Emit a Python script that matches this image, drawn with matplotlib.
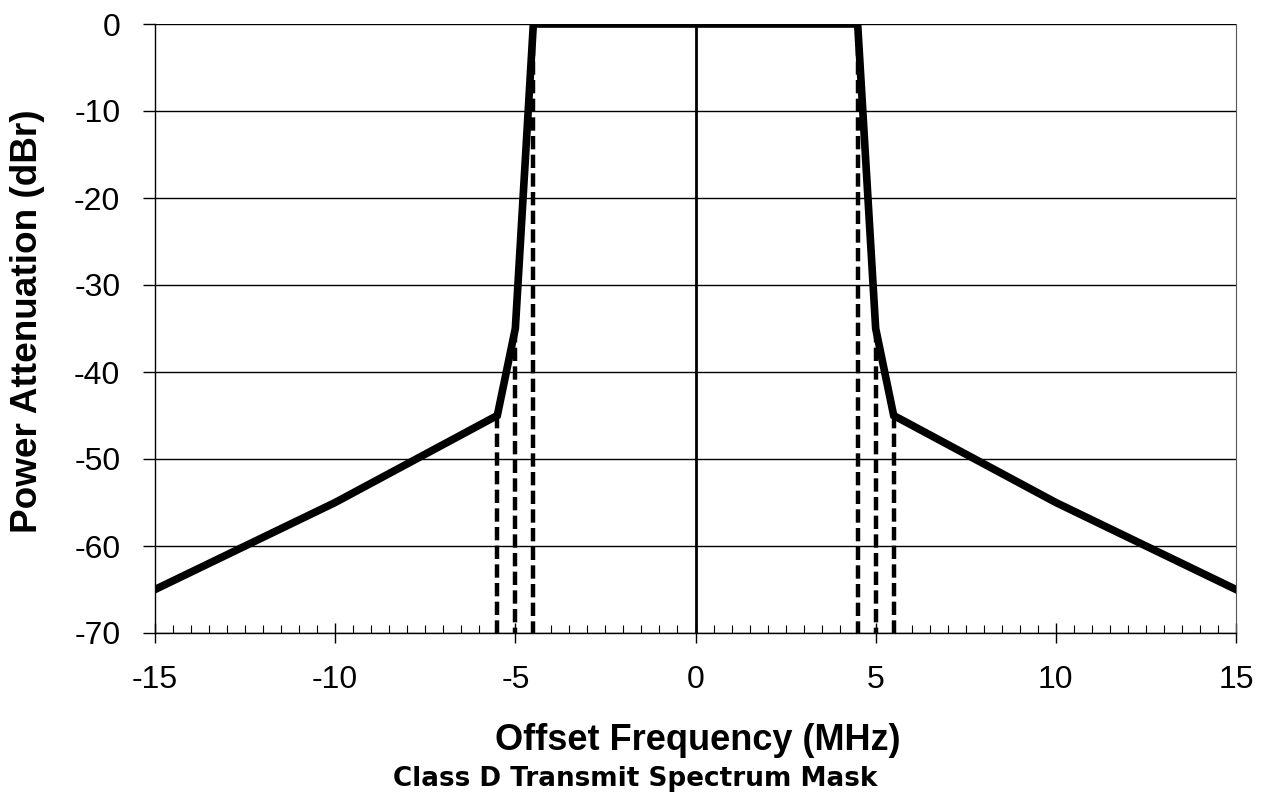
import matplotlib
matplotlib.use("Agg")
import matplotlib.pyplot as plt
from matplotlib.ticker import MultipleLocator

# Class D mask points (offset MHz, dBr)
mask_freq = [-15, -10, -5.5, -5.0, -4.5, 4.5, 5.0, 5.5, 10, 15]
mask_dbr = [-65, -55, -45, -35, 0, 0, -35, -45, -55, -65]

# dashed drop lines at the break frequencies
drop_freq = [-5.5, -5.0, -4.5, 4.5, 5.0, 5.5]
drop_top = [-45, -35, 0, 0, -35, -45]

x_ticks = [-15, -10, -5, 0, 5, 10, 15]
y_ticks = [0, -10, -20, -30, -40, -50, -60, -70]

fig = plt.figure(figsize=(12.71, 7.96), dpi=100)
ax = fig.add_axes([155/1271, 1-633/796, (1236-155)/1271, (633-24)/796])

for yv in y_ticks:
    ax.axhline(yv, color="black", lw=1.0, zorder=1)
ax.axvline(0, color="black", lw=2.0, zorder=2)

for f, t in zip(drop_freq, drop_top):
    ax.plot([f, f], [t, -70], color="black", lw=3.2, ls=(0, (3.0, 1.2)), zorder=3)

ax.plot(mask_freq, mask_dbr, color="black", lw=5.5, solid_joinstyle="miter", zorder=4)

ax.set_xlim(-15, 15)
ax.set_ylim(-70, 0)
ax.set_xticks(x_ticks)
ax.set_xticklabels([str(v) for v in x_ticks])
ax.set_yticks(y_ticks)
ax.set_yticklabels([str(v) for v in y_ticks])
ax.xaxis.set_minor_locator(MultipleLocator(0.5))

for s in ["left", "bottom"]:
    ax.spines[s].set_linewidth(1.0)
    ax.spines[s].set_color("black")
ax.spines["right"].set_linewidth(0.8)
ax.spines["right"].set_color("#555555")
ax.spines["top"].set_visible(False)

ax.tick_params(axis="y", direction="out", length=9, width=1, pad=16, labelsize=23)
ax.tick_params(axis="x", which="major", direction="inout", length=14, width=1, pad=16, labelsize=23)
ax.tick_params(axis="x", which="minor", direction="in", length=6, width=0.8)
for lab in ax.get_xticklabels() + ax.get_yticklabels():
    lab.set_fontfamily(["Liberation Sans", "DejaVu Sans"])

fig.text(28/1271, 1-321/796, "Power Attenuation (dBr)", fontsize=26.6, fontweight="bold",
         family=["Liberation Sans", "DejaVu Sans"], rotation=90, ha="center", va="center")
fig.text(698/1271, 1-740/796, "Offset Frequency (MHz)", fontsize=26, fontweight="bold",
         family=["Liberation Sans", "DejaVu Sans"], ha="center", va="center")
fig.text(635/1271, 1-779/796, "Class D Transmit Spectrum Mask", fontsize=18.9, fontweight="bold",
         family=["DejaVu Sans"], ha="center", va="center")

fig.savefig("out.png", dpi=100, facecolor="white")
